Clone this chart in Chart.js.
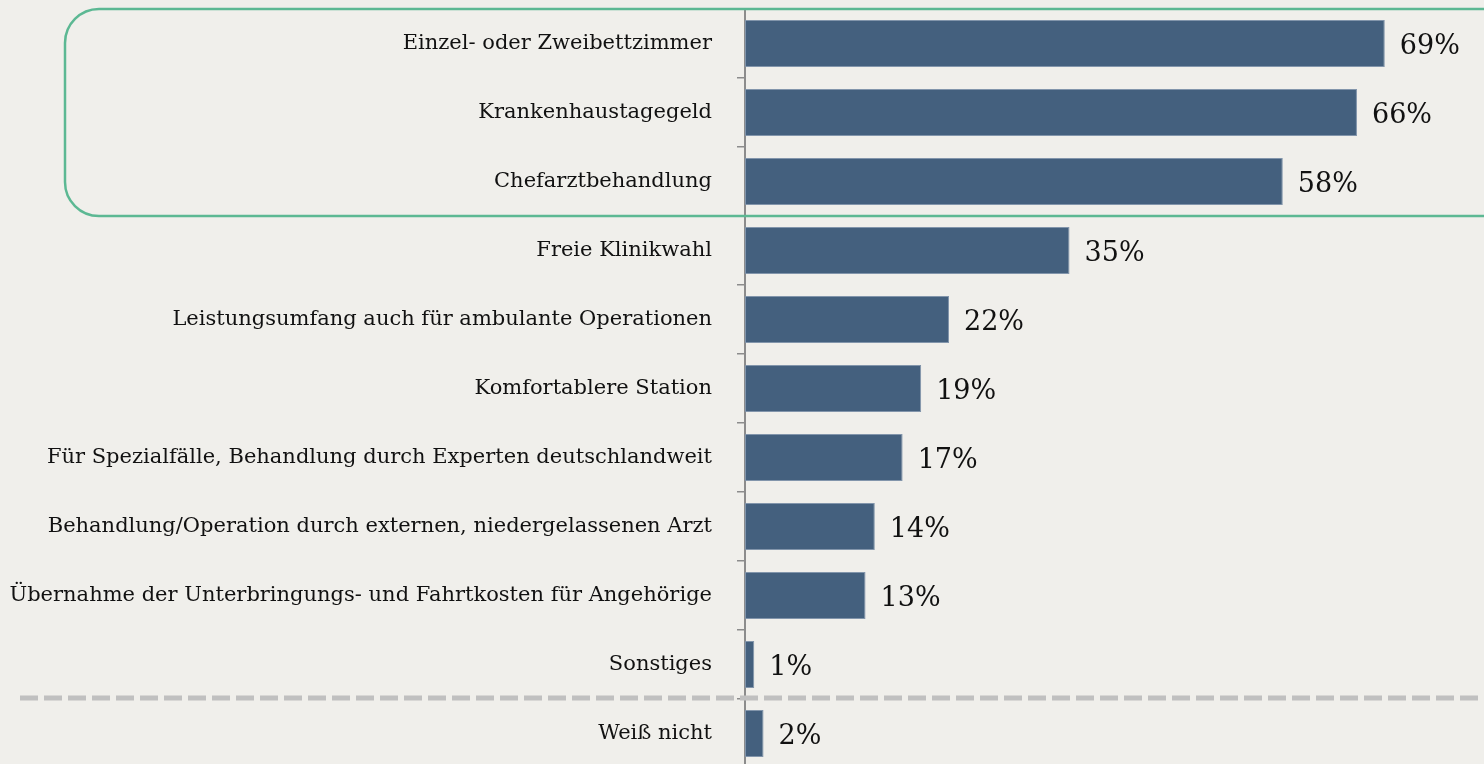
<!DOCTYPE html>
<html>
<head>
<meta charset="utf-8">
<script src="https://cdn.jsdelivr.net/npm/chart.js@4"></script>
<style>
  html, body { margin: 0; padding: 0; background: #f0efeb; overflow: hidden; }
  #wrap { width: 1484px; height: 768px; position: relative; }
</style>
</head>
<body>
<div id="wrap"><canvas id="myChart"></canvas></div>
<script>
const categories = [
    'Einzel- oder Zweibettzimmer',
    'Krankenhaustagegeld',
    'Chefarztbehandlung',
    'Freie Klinikwahl',
    'Leistungsumfang auch für ambulante Operationen',
    'Komfortablere Station',
    'Für Spezialfälle, Behandlung durch Experten deutschlandweit',
    'Behandlung/Operation durch externen, niedergelassenen Arzt',
    'Übernahme der Unterbringungs- und Fahrtkosten für Angehörige',
    'Sonstiges',
    'Weiß nicht'
];
const values = [69, 66, 58, 35, 22, 19, 17, 14, 13, 1, 2];
const highlighted = [0, 1, 2];   // rows inside the green box
const separatorAfter = 9;        // dashed line below "Sonstiges"

const valueFont = '27px "DejaVu Serif"';

// value labels right of each bar
const valueLabels = {
    id: 'valueLabels',
    afterDatasetsDraw(chart) {
        const ctx = chart.ctx;
        const meta = chart.getDatasetMeta(0);
        ctx.save();
        ctx.font = valueFont;
        ctx.fillStyle = '#111';
        ctx.textBaseline = 'middle';
        meta.data.forEach((bar, i) => {
            ctx.fillText(values[i] + '%', bar.x + 15, bar.y + 3);
        });
        ctx.restore();
    }
};

// green rounded box + dashed separator
const decorations = {
    id: 'decorations',
    afterDraw(chart) {
        const ctx = chart.ctx;
        const y = chart.scales.y;
        const half = (y.getPixelForValue(1) - y.getPixelForValue(0)) / 2;
        const top = y.getPixelForValue(highlighted[0]) - half;
        const bottom = y.getPixelForValue(highlighted[highlighted.length - 1]) + half;
        ctx.save();
        ctx.strokeStyle = '#5cb893';
        ctx.lineWidth = 2.5;
        ctx.beginPath();
        ctx.roundRect(65, top, chart.width + 60 - 65, bottom - top, 34);
        ctx.stroke();

        const sy = y.getPixelForValue(separatorAfter) + half - 1;
        ctx.strokeStyle = '#c0c0c0';
        ctx.lineWidth = 5;
        ctx.setLineDash([18, 6]);
        ctx.beginPath();
        ctx.moveTo(20, sy);
        ctx.lineTo(chart.width, sy);
        ctx.stroke();
        ctx.restore();
    }
};

const ctx = document.getElementById('myChart').getContext('2d');
const myChart = new Chart(ctx, {
    type: 'bar',
    data: {
        labels: categories,
        datasets: [{
            data: values,
            backgroundColor: '#44607e',
            borderColor: '#8295ab',
            borderWidth: 1,
            borderSkipped: false,
            categoryPercentage: 1,
            barPercentage: 0.68
        }]
    },
    options: {
        indexAxis: 'y',
        responsive: true,
        maintainAspectRatio: false,
        animation: false,
        layout: { padding: { top: 9, right: 0, bottom: 0, left: 0 } },
        plugins: { legend: { display: false }, tooltip: { enabled: false } },
        scales: {
            x: { display: false, min: 0, max: 79.7 },
            y: {
                afterFit(scale) {
                    scale.width = 745;
                    scale.paddingTop = 0;      // tick padding would otherwise push the plot down
                    scale.paddingBottom = 0;
                },
                border: { color: '#8c8c8c', width: 2 },
                grid: { drawOnChartArea: false, color: '#8c8c8c', lineWidth: 1.5, tickLength: 8 },
                ticks: { color: '#111', font: { family: 'DejaVu Serif', size: 21 }, padding: 25 }
            }
        }
    },
    plugins: [valueLabels, decorations]
});
</script>
</body>
</html>
